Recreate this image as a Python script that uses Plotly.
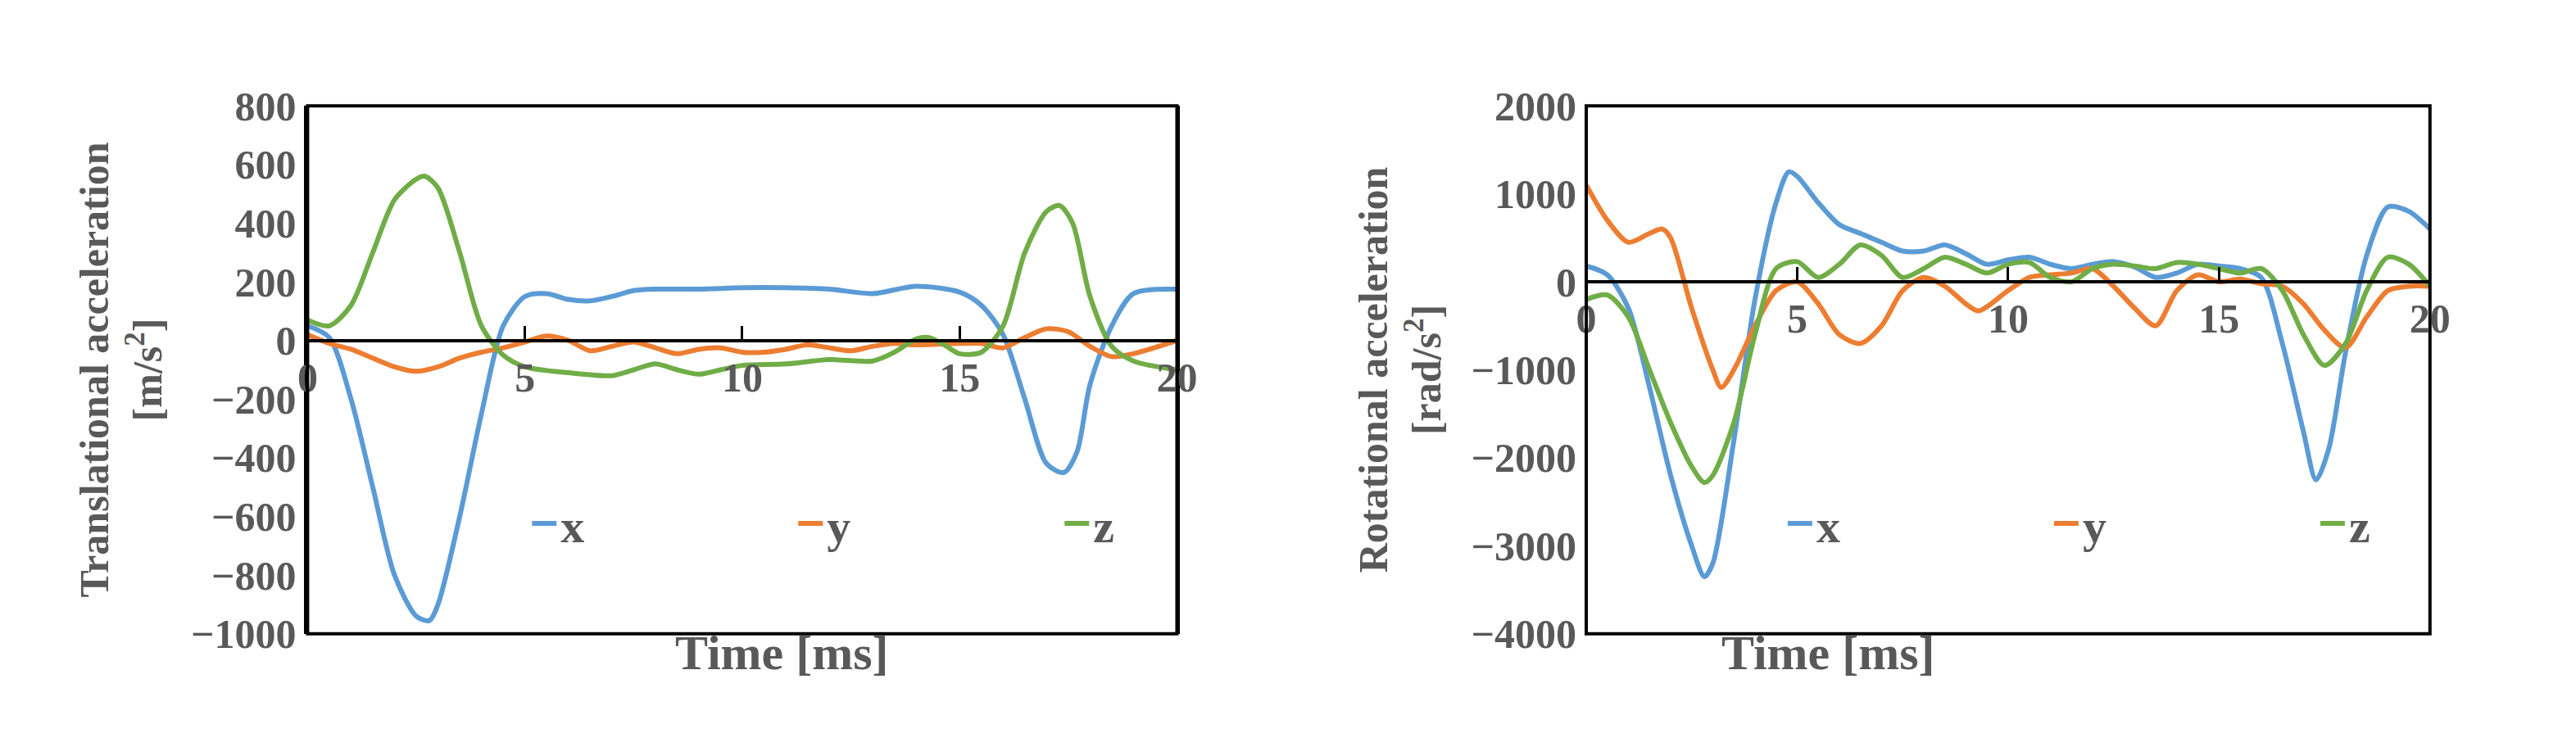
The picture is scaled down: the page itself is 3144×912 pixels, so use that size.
import plotly.graph_objects as go

# Left chart: translational acceleration
t_lx = [0,0.5,1,1.5,2,2.5,2.8,3,3.5,4,4.5,5,5.5,6,6.5,7,7.5,8,9,10,11,12,13,14,15,15.5,16,16.5,17,17.4,17.7,18,18.5,19,20]
v_lx = [50,10,-200,-500,-800,-940,-955,-900,-600,-250,50,150,160,140,135,150,170,175,175,180,180,175,160,185,165,120,20,-200,-420,-450,-380,-150,50,160,175]
t_ly = [0,0.5,1,1.5,2,2.5,3,3.5,4,4.5,5,5.5,6,6.5,7,7.5,8,8.5,9,9.5,10,10.5,11,11.5,12,12.5,13,13.5,14,15,15.5,16,16.5,17,17.5,18,18.5,19,20]
v_ly = [20,-10,-30,-60,-90,-105,-90,-60,-40,-25,-5,15,0,-35,-20,-5,-25,-45,-30,-25,-40,-40,-30,-15,-25,-35,-20,-10,-15,-10,-10,-25,10,40,30,-20,-55,-45,0]
t_lz = [0,0.5,1,1.5,2,2.5,2.7,3,3.5,4,4.5,5,6,7,7.5,8,8.5,9,9.5,10,11,12,13,13.5,14,14.3,14.7,15,15.5,16,16.5,17,17.3,17.6,18,18.5,19,20]
v_lz = [70,50,120,300,480,550,560,520,300,50,-50,-90,-110,-120,-100,-80,-100,-115,-100,-85,-80,-65,-70,-40,5,10,-20,-45,-40,50,300,440,460,400,150,-20,-70,-100]

# Right chart: rotational acceleration
t_rx = [0,0.5,1,1.5,2,2.5,2.8,3,3.5,4,4.5,4.8,5,5.5,6,6.5,7,7.5,8,8.5,9,9.5,10,10.5,11,11.5,12,12.5,13,13.5,14,14.5,15,15.5,16,16.5,17,17.3,17.6,18,18.5,19,19.5,20]
v_rx = [180,80,-300,-1200,-2200,-3000,-3350,-3200,-1800,-200,900,1250,1200,900,650,550,450,350,350,420,320,200,250,280,200,150,200,230,170,50,100,200,180,150,50,-700,-1700,-2250,-1900,-800,300,850,800,600]
t_ry = [0,0.5,1,1.5,1.8,2,2.5,3,3.2,3.5,4,4.5,5,5.5,6,6.5,7,7.5,8,8.5,9,9.3,10,10.5,11,11.5,12,12.5,13,13.5,14,14.5,15,15.5,16,16.5,17,17.5,18,18.5,19,19.5,20]
v_ry = [1100,700,450,550,600,500,-300,-1000,-1200,-1000,-500,-100,0,-250,-600,-700,-500,-100,50,-50,-250,-330,-100,50,80,100,150,-50,-300,-500,-100,80,0,30,-20,-50,-250,-550,-750,-400,-100,-50,-50]
t_rz = [0,0.5,1,1.5,2,2.5,2.8,3,3.5,4,4.5,5,5.5,6,6.5,7,7.5,8,8.5,9,9.5,10,10.5,11,11.5,12,12.5,13,13.5,14,14.5,15,15.5,16,16.5,17,17.5,18,18.5,19,19.5,20]
v_rz = [-200,-150,-400,-1000,-1600,-2100,-2280,-2200,-1600,-600,150,230,50,200,420,300,50,150,280,200,100,200,220,50,0,150,200,180,150,220,200,150,100,150,-100,-600,-950,-700,-100,280,200,-50]

blue, orange, green = "#5B9BD5", "#ED7D31", "#70AD47"
gray = "#595959"
font = "Liberation Serif"

fig = go.Figure()
for t, v, c, n in [(t_lx, v_lx, blue, "x"), (t_ly, v_ly, orange, "y"), (t_lz, v_lz, green, "z")]:
    fig.add_trace(go.Scatter(x=t, y=v, mode="lines", line=dict(color=c, width=6, shape="spline", smoothing=0.8),
                             name=n, xaxis="x", yaxis="y", legend="legend"))
for t, v, c, n in [(t_rx, v_rx, blue, "x"), (t_ry, v_ry, orange, "y"), (t_rz, v_rz, green, "z")]:
    fig.add_trace(go.Scatter(x=t, y=v, mode="lines", line=dict(color=c, width=6, shape="spline", smoothing=0.8),
                             name=n, xaxis="x2", yaxis="y2", legend="legend2"))

yb, yt = 0.138, 0.890
tickfont = dict(family=font, size=50, color=gray, weight="bold")
xcommon = dict(range=[0, 20], tickvals=[0, 5, 10, 15, 20], showgrid=False, zeroline=False,
               showline=True, linecolor="black", linewidth=4, ticks="inside", ticklen=16,
               tickwidth=3, tickcolor="black", tickfont=tickfont, anchor="free")
titlefont = dict(family=font, size=50, color=gray)
legfont = dict(family=font, size=58, color=gray, weight="bold")
fig.update_layout(
    width=3144, height=912, margin=dict(l=0, r=0, t=0, b=0),
    plot_bgcolor="white", paper_bgcolor="white", font=dict(family=font, color=gray),
    xaxis=dict(domain=[0.1177, 0.4701], position=yb + (1000/1800)*(yt-yb), **xcommon),
    yaxis=dict(domain=[yb, yt], range=[-1000, 800], dtick=200, showgrid=False, zeroline=False,
               tickfont=tickfont, ticks="", showline=True, linecolor="black", linewidth=4, mirror=True,
               title=dict(text="<b>Translational acceleration<br>[m/s<sup>2</sup>]</b>",
                          font=titlefont, standoff=20)),
    xaxis2=dict(domain=[0.636, 0.978], position=yb + (4000/6000)*(yt-yb), **xcommon),
    yaxis2=dict(domain=[yb, yt], range=[-4000, 2000], dtick=1000, showgrid=False, zeroline=False,
                anchor="free", position=0.636,
                tickfont=tickfont, ticks="", showline=True, linecolor="black", linewidth=4, mirror=True,
                title=dict(text="<b>Rotational acceleration<br>[rad/s<sup>2</sup>]</b>",
                           font=titlefont, standoff=20)),
    legend=dict(orientation="h", x=0.207, y=0.295, xanchor="left", yanchor="middle",
                entrywidth=280, entrywidthmode="pixels", bgcolor="rgba(0,0,0,0)", font=legfont),
    legend2=dict(orientation="h", x=0.716, y=0.295, xanchor="left", yanchor="middle",
                 entrywidth=280, entrywidthmode="pixels", bgcolor="rgba(0,0,0,0)", font=legfont),
    showlegend=True,
)
for xd in ["x", "x2"]:
    fig.add_shape(type="rect", xref=f"{xd} domain", yref="paper", x0=0, x1=1, y0=yb, y1=yt,
                  line=dict(color="black", width=4))
for xc in [0.266, 0.778]:
    fig.add_annotation(text="<b>Time [ms]</b>", x=xc, y=0.07, xref="paper", yref="paper",
                       showarrow=False, font=dict(family=font, size=60, color=gray))
fig.write_html("out.html")
